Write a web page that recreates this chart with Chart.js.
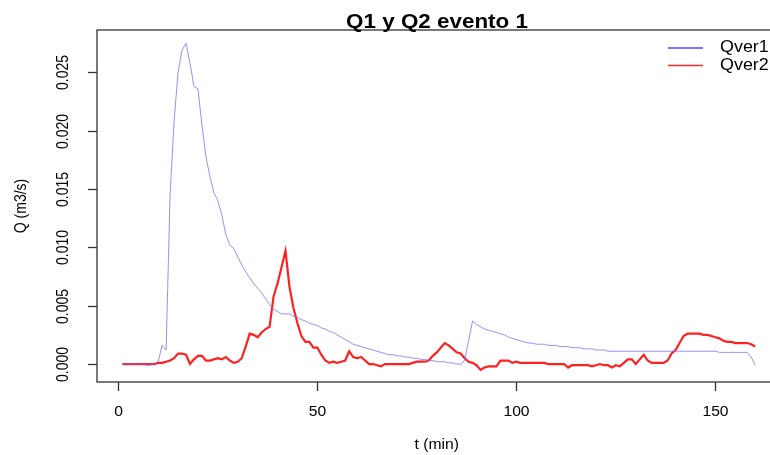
<!DOCTYPE html>
<html lang="es">

<head>
    <meta charset="utf-8">
    <title>Q1 y Q2 evento 1</title>
    <script src="https://cdn.jsdelivr.net/npm/chart.js"></script>
    <style>
        html, body { margin: 0; padding: 0; background: #fff; overflow: hidden; }
        #wrap { width: 790px; height: 455px; }
    </style>
</head>

<body>
    <div id="wrap">
        <canvas id="myChart" width="790" height="455"></canvas>
    </div>

	<script>
	// t (min), 1 .. 160
	const tiempo = [];
	for (var i = 1; i <= 160; i++) tiempo.push(i);

	const qver1 = [
		0, 0, 0, 0, 0, 0, -0.0001, -0.0001, 0, 0.0002,
		0.0016, 0.0012, 0.0145, 0.0208, 0.0250, 0.0269, 0.0275, 0.0258, 0.0238, 0.0236,
		0.0205, 0.0178, 0.0161, 0.0147, 0.0140, 0.0128, 0.0111, 0.0102, 0.0099, 0.0092,
		0.0085, 0.0079, 0.0074, 0.0069, 0.0065, 0.0061, 0.0056, 0.0051, 0.0047, 0.0045,
		0.0043, 0.0043, 0.0043, 0.0041, 0.0040, 0.0038, 0.0037, 0.0035, 0.0034, 0.0033,
		0.0031, 0.0030, 0.0028, 0.0027, 0.0025, 0.0023, 0.0021, 0.0019, 0.0017, 0.0016,
		0.0015, 0.0014, 0.0013, 0.0012, 0.0011, 0.0010, 0.0009, 0.0008, 0.0008, 0.0007,
		0.0007, 0.0006, 0.0006, 0.0005, 0.0005, 0.0004, 0.0004, 0.0003, 0.0003, 0.0002,
		0.0002, 0.0002, 0.0001, 0.0001, 0.0000, 0.0000, 0.0003, 0.0020, 0.0037, 0.0034,
		0.0032, 0.0030, 0.0029, 0.0028, 0.0027, 0.0026, 0.0025, 0.0023, 0.0022, 0.0021,
		0.0020, 0.0019, 0.0018, 0.0018, 0.0017, 0.0017, 0.0017, 0.0016, 0.0016, 0.0016,
		0.0015, 0.0015, 0.0015, 0.0014, 0.0014, 0.0014, 0.0013, 0.0013, 0.0013, 0.0012,
		0.0012, 0.0012, 0.0011, 0.0011, 0.0011, 0.0011, 0.0011, 0.0011, 0.0011, 0.0011,
		0.0011, 0.0011, 0.0011, 0.0011, 0.0011, 0.0011, 0.0011, 0.0011, 0.0011, 0.0011,
		0.0011, 0.0011, 0.0011, 0.0011, 0.0011, 0.0011, 0.0011, 0.0011, 0.0011, 0.0011,
		0.0010, 0.0010, 0.0010, 0.0010, 0.0010, 0.0010, 0.0010, 0.0010, 0.0006, -0.0001
	];

	const qver2 = [
		0, 0, 0, 0, 0, 0, 0, 0, 0, 0.0001,
		0.0001, 0.0002, 0.0003, 0.0005, 0.0009, 0.0009, 0.0008, 0.0000, 0.0004, 0.0007,
		0.0007, 0.0003, 0.0003, 0.0004, 0.0005, 0.0004, 0.0006, 0.0003, 0.0001, 0.0002,
		0.0005, 0.0015, 0.0026, 0.0025, 0.0023, 0.0027, 0.0030, 0.0032, 0.0058, 0.0069,
		0.0083, 0.0097, 0.0066, 0.0048, 0.0035, 0.0024, 0.0019, 0.0019, 0.0014, 0.0014,
		0.0008, 0.0003, 0.0001, 0.0002, 0.0001, 0.0002, 0.0003, 0.0011, 0.0006, 0.0005,
		0.0006, 0.0003, 0.0000, 0.0000, -0.0001, -0.0002, 0.0000, 0.0000, 0.0000, 0.0000,
		0.0000, 0.0000, 0.0000, 0.0001, 0.0002, 0.0002, 0.0002, 0.0003, 0.0007, 0.0010,
		0.0014, 0.0018, 0.0016, 0.0013, 0.0010, 0.0009, 0.0005, 0.0002, 0.0001, -0.0001,
		-0.0005, -0.0003, -0.0002, -0.0002, -0.0002, 0.0003, 0.0003, 0.0003, 0.0001, 0.0002,
		0.0001, 0.0001, 0.0001, 0.0001, 0.0001, 0.0001, 0.0001, 0.0000, 0.0000, 0.0000,
		0.0000, 0.0000, -0.0003, -0.0001, -0.0001, -0.0001, -0.0001, -0.0001, -0.0002, -0.0001,
		0.0000, -0.0001, -0.0001, -0.0003, -0.0001, -0.0002, 0.0001, 0.0004, 0.0004, 0.0000,
		0.0004, 0.0008, 0.0003, 0.0001, 0.0001, 0.0001, 0.0001, 0.0003, 0.0009, 0.0012,
		0.0018, 0.0024, 0.0026, 0.0026, 0.0026, 0.0026, 0.0025, 0.0025, 0.0024, 0.0023,
		0.0022, 0.0020, 0.0019, 0.0019, 0.0018, 0.0018, 0.0018, 0.0018, 0.0017, 0.0015
	];

	const xTicks = [0, 50, 100, 150];
	const yTicks = [0, 0.005, 0.010, 0.015, 0.020, 0.025];
	const yTickLabels = ['0.000', '0.005', '0.010', '0.015', '0.020', '0.025'];
	const series = ['Qver1', 'Qver2'];

	const FONT = '"Liberation Sans", Arial, sans-serif';
	const STRETCH = 1.12; // the reference picture is a little wider than tall

	// texto estirado en horizontal (en coordenadas de pantalla)
	function texto(c, s, x, y, rot) {
		c.save();
		c.translate(x, y);
		c.scale(STRETCH, 1);
		if (rot) c.rotate(rot);
		c.fillText(s, 0, 0);
		c.restore();
	}

	// ejes, marco, titulos y leyenda al estilo de R base graphics
	const rStyle = {
		id: 'rStyle',
		afterDraw(chart) {
			const c = chart.ctx;
			const a = chart.chartArea;
			const sx = chart.scales.x;
			const sy = chart.scales.y;
			c.save();

			// marco
			c.strokeStyle = '#333';
			c.lineWidth = 1.3;
			c.strokeRect(a.left, a.top, a.right - a.left, a.bottom - a.top);

			c.fillStyle = '#000';
			c.font = '14px ' + FONT;
			c.textAlign = 'center';
			c.textBaseline = 'middle';

			// eje x
			xTicks.forEach(function(v) {
				var px = Math.round(sx.getPixelForValue(v)) + 0.5;
				c.beginPath();
				c.moveTo(px, a.bottom);
				c.lineTo(px, a.bottom + 9);
				c.stroke();
				texto(c, String(v), px, a.bottom + 30);
			});

			// eje y
			yTicks.forEach(function(v, i) {
				var py = Math.round(sy.getPixelForValue(v)) + 0.5;
				c.beginPath();
				c.moveTo(a.left, py);
				c.lineTo(a.left - 9, py);
				c.stroke();
				texto(c, yTickLabels[i], a.left - 33, py, -Math.PI / 2);
			});

			// titulos de ejes
			texto(c, 't (min)', (a.left + a.right) / 2 - 2, a.bottom + 63);
			texto(c, 'Q (m3/s)', 22, (a.top + a.bottom) / 2, -Math.PI / 2);

			// titulo
			c.font = 'bold 20px ' + FONT;
			c.textBaseline = 'alphabetic';
			texto(c, 'Q1 y Q2 evento 1', 437, 28);

			// leyenda
			c.font = '16px ' + FONT;
			c.textAlign = 'left';
			c.textBaseline = 'middle';
			var legColors = ['#4b4bff', '#ff2a2a'];
			series.forEach(function(name, i) {
				var ly = 48 + i * 17.5;
				c.strokeStyle = legColors[i];
				c.lineWidth = 1.5;
				c.beginPath();
				c.moveTo(668, ly);
				c.lineTo(703, ly);
				c.stroke();
				texto(c, name, 720, ly);
			});

			c.restore();
		}
	};

	const ctx = document.getElementById('myChart').getContext('2d');

	const myChart = new Chart(ctx, {
		type: 'line',
		data: {
			labels: tiempo,
			datasets: [{
				label: series[0],
				data: tiempo.map(function(t, i) { return { x: t, y: qver1[i] }; }),
				borderColor: 'rgba(110, 110, 255, 0.75)',
				borderWidth: 1,
				pointRadius: 0,
				tension: 0,
				fill: false
			}, {
				label: series[1],
				data: tiempo.map(function(t, i) { return { x: t, y: qver2[i] }; }),
				borderColor: '#ff2020',
				borderWidth: 2.2,
				pointRadius: 0,
				tension: 0,
				fill: false
			}]
		},
		options: {
			responsive: false,
			animation: false,
			devicePixelRatio: 1,
			layout: {
				padding: { left: 97, top: 30, right: 9.5, bottom: 73 }
			},
			plugins: {
				legend: { display: false },
				tooltip: { enabled: false },
				title: { display: false }
			},
			scales: {
				x: {
					type: 'linear',
					display: false,
					min: -5.36,
					max: 166.36
				},
				y: {
					type: 'linear',
					display: false,
					min: -0.00154,
					max: 0.02864
				}
			}
		},
		plugins: [rStyle]
	});
	</script>
</body>

</html>
